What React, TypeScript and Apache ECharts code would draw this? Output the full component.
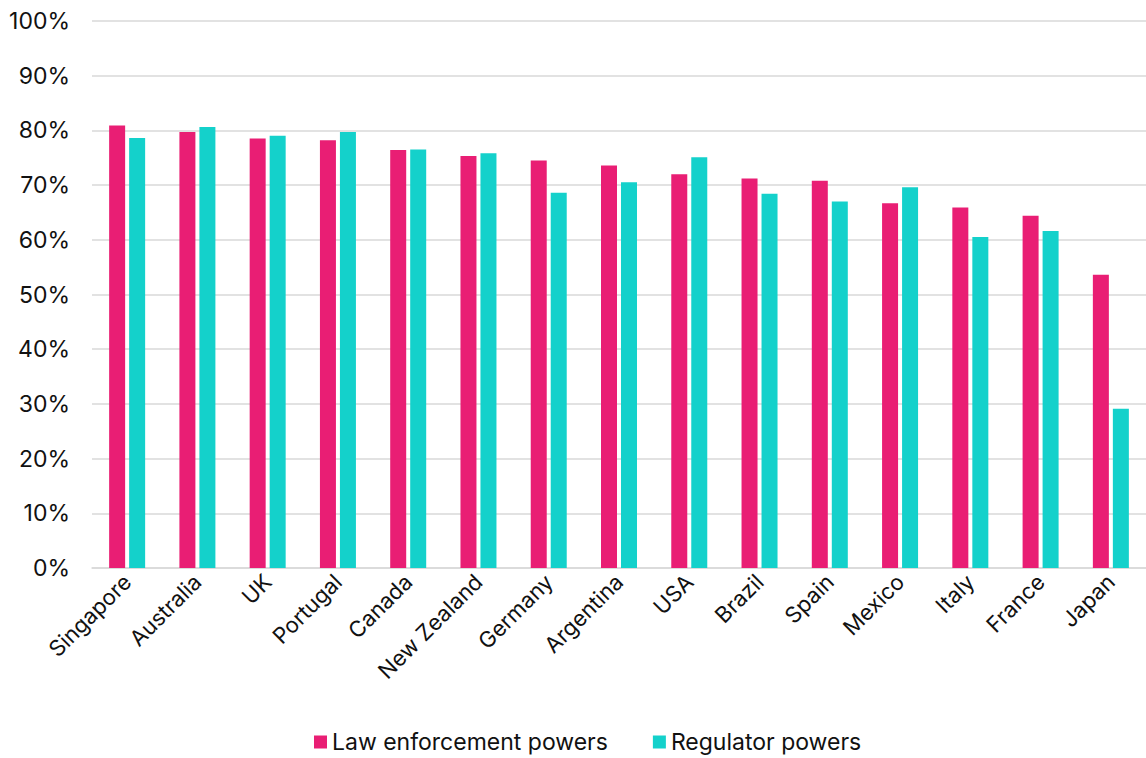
import React, { useEffect, useRef } from "react";
import * as echarts from "echarts";

const countries = [
  "Singapore", "Australia", "UK", "Portugal", "Canada", "New Zealand", "Germany",
  "Argentina", "USA", "Brazil", "Spain", "Mexico", "Italy", "France", "Japan",
];
const lawEnforcement = [80.9, 79.7, 78.5, 78.2, 76.4, 75.3, 74.5, 73.6, 72.0, 71.2, 70.8, 66.7, 65.9, 64.4, 53.6];
const regulator = [78.6, 80.6, 79.0, 79.7, 76.5, 75.8, 68.6, 70.5, 75.1, 68.4, 67.0, 69.6, 60.5, 61.6, 29.1];
const seriesNames = ["Law enforcement powers", "Regulator powers"];
const colors = ["#E91E74", "#14D1CB"];

const FONT = "Inter, 'Noto Sans', sans-serif";

export default function App() {
  const ref = useRef<HTMLDivElement>(null);
  useEffect(() => {
    if (!ref.current) return;
    const chart = echarts.init(ref.current, undefined, { renderer: "svg" });
    chart.setOption({
      animation: false,
      textStyle: { fontFamily: FONT },
      grid: { left: 92, right: 0, top: 21, bottom: 190, containLabel: false },
      legend: {
        top: 725,
        left: 312,
        padding: 2,
        itemWidth: 13,
        itemHeight: 13,
        itemGap: 45,
        icon: "rect",
        textStyle: { fontSize: 23, lineHeight: 30, color: "#111", fontFamily: FONT },
        data: seriesNames,
      },
      xAxis: {
        type: "category",
        data: countries,
        axisLine: { lineStyle: { color: "#d9d9d9", width: 1.5 } },
        axisTick: { show: false },
        axisLabel: {
          rotate: 45,
          fontSize: 22,
          color: "#111",
          margin: 10,
          interval: 0,
          fontFamily: FONT,
        },
      },
      yAxis: {
        type: "value",
        min: 0,
        max: 100,
        interval: 10,
        axisLabel: {
          formatter: "{value}%",
          fontSize: 23,
          color: "#111",
          margin: 22,
          fontFamily: FONT,
        },
        axisLine: { show: false },
        axisTick: { show: false },
        splitLine: { lineStyle: { color: "#d9d9d9", width: 1.5 } },
      },
      series: [
        {
          name: seriesNames[0],
          type: "bar",
          data: lawEnforcement,
          barWidth: 16,
          barGap: "25%",
          itemStyle: { color: colors[0] },
        },
        {
          name: seriesNames[1],
          type: "bar",
          data: regulator,
          barWidth: 16,
          itemStyle: { color: colors[1] },
        },
      ],
    });
    return () => chart.dispose();
  }, []);
  return (
    <div
      ref={ref}
      style={{ position: "absolute", left: 0, top: 0, width: 1146, height: 758 }}
    />
  );
}
